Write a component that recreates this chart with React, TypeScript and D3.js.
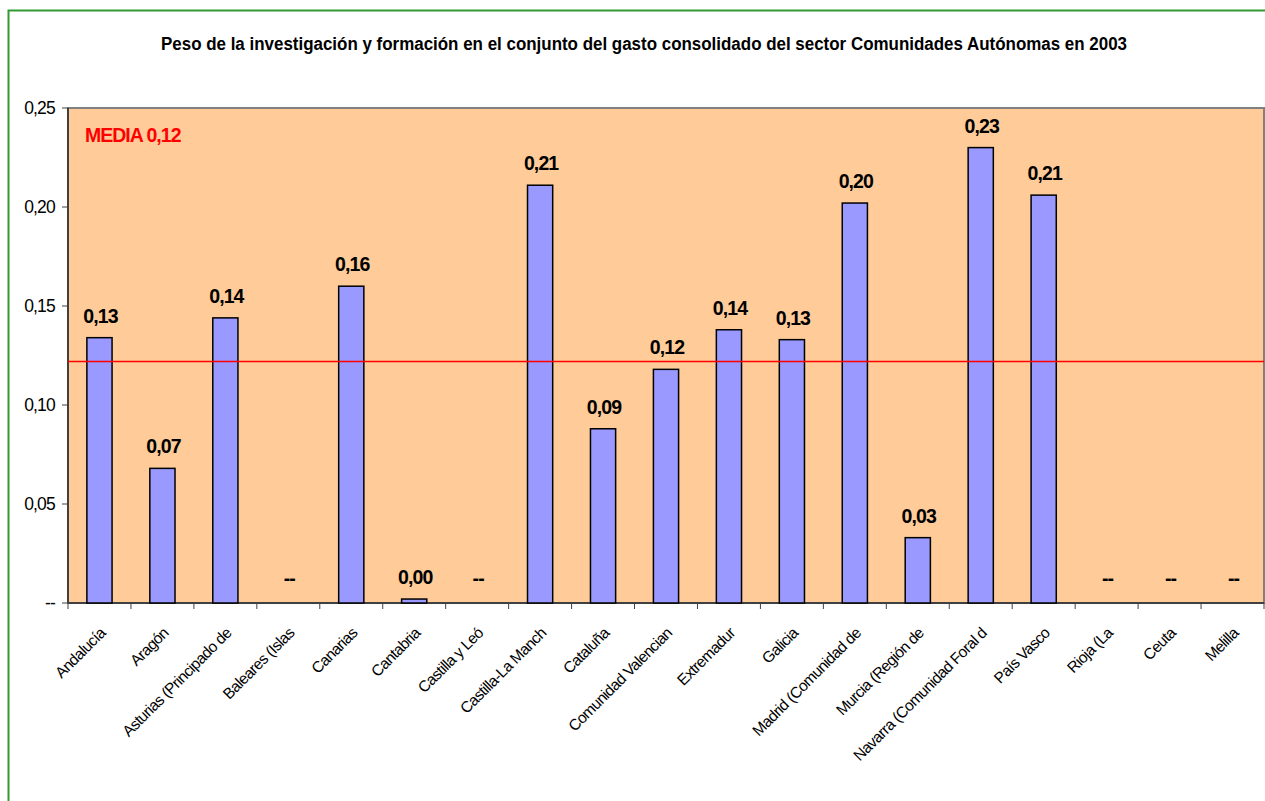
import React from "react";
import * as d3 from "d3";

const categories = [
  "Andalucía",
  "Aragón",
  "Asturias (Principado de)",
  "Baleares (Islas)",
  "Canarias",
  "Cantabria",
  "Castilla y León",
  "Castilla-La Mancha",
  "Cataluña",
  "Comunidad Valenciana",
  "Extremadura",
  "Galicia",
  "Madrid (Comunidad de)",
  "Murcia (Región de)",
  "Navarra (Comunidad Foral de)",
  "País Vasco",
  "Rioja (La)",
  "Ceuta",
  "Melilla",
];

// Visible (clipped) tick labels as shown in the chart
const tickLabels = [
  "Andalucía",
  "Aragón",
  "Asturias (Principado de",
  "Baleares (Islas",
  "Canarias",
  "Cantabria",
  "Castilla y Leó",
  "Castilla-La Manch",
  "Cataluña",
  "Comunidad Valencian",
  "Extremadur",
  "Galicia",
  "Madrid (Comunidad de",
  "Murcia (Región de",
  "Navarra (Comunidad Foral d",
  "País Vasco",
  "Rioja (La",
  "Ceuta",
  "Melilla",
];

const values: (number | null)[] = [
  0.134, 0.068, 0.144, null, 0.16, 0.002, null, 0.211, 0.088, 0.118, 0.138,
  0.133, 0.202, 0.033, 0.23, 0.206, null, null, null,
];

const yTicks = [0, 0.05, 0.1, 0.15, 0.2, 0.25];
const mean = 0.122;
const meanLabel = "MEDIA 0,12";
const title =
  "Peso de la investigación y formación en el conjunto del gasto consolidado del sector Comunidades Autónomas en 2003";

const fmt = (v: number) => v.toFixed(2).replace(".", ",");
const FONT = "'Liberation Sans', Arial, sans-serif";

export default function App() {
  const left = 68;
  const right = 1264;
  const top = 108;
  const bottom = 603;

  const x = d3.scaleBand<string>().domain(categories).range([left, right]).padding(0);
  const y = d3.scaleLinear().domain([0, 0.25]).range([bottom, top]);
  const bw = x.bandwidth() * 0.4;

  return (
    <svg
      width={1265}
      height={801}
      style={{ position: "absolute", left: 0, top: 0, background: "#fff" }}
      fontFamily={FONT}
    >
      {/* outer green frame */}
      <rect x={8.5} y={10.5} width={1300} height={900} fill="none" stroke="#339933" strokeWidth={2} />

      {/* title */}
      <text
        x={(161 + 1127) / 2}
        y={50}
        textAnchor="middle"
        fontWeight="bold"
        fontSize={18}
        textLength={966}
        lengthAdjust="spacingAndGlyphs"
        fill="#000"
      >
        {title}
      </text>

      {/* plot area */}
      <rect x={left} y={top} width={right - left} height={bottom - top} fill="#FFCC99" stroke="#808080" strokeWidth={2} />

      {/* y ticks */}
      {yTicks.map((t) => (
        <g key={t}>
          <line x1={left - 6} x2={left} y1={y(t)} y2={y(t)} stroke="#404040" strokeWidth={1} />
          <text x={55} y={y(t)} dy="0.36em" textAnchor="end" fontSize={17.5} fill="#000" letterSpacing={-0.8}>
            {t === 0 ? "--" : fmt(t)}
          </text>
        </g>
      ))}

      {/* x ticks at category boundaries */}
      {categories.map((c, i) => (
        <line key={"t" + i} x1={x(c)!} x2={x(c)!} y1={bottom} y2={bottom + 6} stroke="#404040" strokeWidth={1} />
      ))}
      <line x1={right} x2={right} y1={bottom} y2={bottom + 6} stroke="#404040" strokeWidth={1} />

      {/* axis lines */}
      <line x1={left} x2={left} y1={top} y2={bottom} stroke="#404040" strokeWidth={2} />
      <line x1={left} x2={right} y1={bottom} y2={bottom} stroke="#404040" strokeWidth={2} />

      {/* bars */}
      {categories.map((c, i) => {
        const v = values[i];
        if (v === null) return null;
        const cx = x(c)! + x.bandwidth() / 2;
        return (
          <rect
            key={"b" + i}
            x={cx - bw / 2}
            y={y(v)}
            width={bw}
            height={bottom - y(v)}
            fill="#9999FF"
            stroke="#000"
            strokeWidth={1.5}
          />
        );
      })}

      {/* mean line */}
      <line x1={left} x2={right} y1={y(mean)} y2={y(mean)} stroke="#FF0000" strokeWidth={1.5} />
      <text x={85} y={141.5} fontWeight="bold" fontSize={19.5} fill="#FF0000" letterSpacing={-1}>
        {meanLabel}
      </text>

      {/* value labels */}
      {categories.map((c, i) => {
        const v = values[i];
        const cx = x(c)! + x.bandwidth() / 2;
        const yy = y(v === null ? 0 : v) - 15;
        return (
          <text
            key={"v" + i}
            x={cx + 1}
            y={v === null ? yy - 3 : yy}
            textAnchor="middle"
            fontWeight="bold"
            fontSize={19.5}
            fill="#000"
            letterSpacing={-0.9}
          >
            {v === null ? "--" : fmt(v)}
          </text>
        );
      })}

      {/* x labels */}
      {categories.map((c, i) => {
        const cx = x(c)! + x.bandwidth() / 2 + 7;
        const yy = 634;
        return (
          <text
            key={"x" + i}
            transform={`translate(${cx},${yy}) rotate(-45)`}
            textAnchor="end"
            fontSize={15.5}
            fill="#000"
            letterSpacing={-0.6}
          >
            {tickLabels[i]}
          </text>
        );
      })}
    </svg>
  );
}
